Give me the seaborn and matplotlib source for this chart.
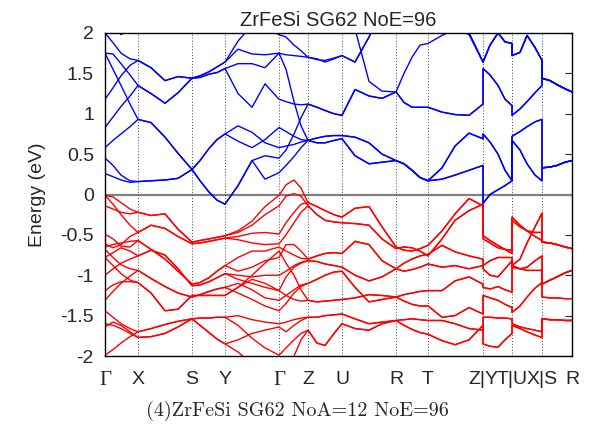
import pandas as pd
import matplotlib
matplotlib.use('Agg')
import matplotlib.pyplot as plt
import seaborn as sns

# path coordinate of every sample (duplicated x = discontinuity Z|Y, T|U, X|S)
k_path = [0, 8, 16, 25, 33, 46, 60, 73, 87, 95, 104, 112, 120, 133, 147, 160,
          174, 181, 189, 196, 203, 212, 220, 229, 237, 250, 264, 277, 291, 299,
          307, 315, 323, 337, 350, 364, 378,
          378, 385, 393, 400, 407,
          407, 415, 422, 430, 437,
          437, 445, 452, 460, 467]

sym_pos = [0, 33, 87, 120, 174, 203, 237, 291, 323, 378, 407, 437, 467]
sym_labels = ['Γ', 'X', 'S', 'Y', 'Γ', 'Z', 'U', 'R', 'T', 'Z|Y', 'T|U', 'X|S', 'R']

# conduction bands (eV)
c1 = [0.26, 0.22, 0.18, 0.15, 0.16, 0.17, 0.18, 0.20, 0.31, 0.42, 0.57, 0.68, 0.75,
      0.85, 0.77, 0.64, 0.58, 0.60, 0.62, 0.65, 0.67, 0.70, 0.72, 0.73, 0.73,
      0.71, 0.64, 0.50, 0.42, 0.38, 0.30, 0.21, 0.17, 0.33, 0.60, 0.76, 0.69,
      0.75, 0.65, 0.50, 0.30, 0.17, 0.72, 0.78, 0.84, 0.90, 0.93,
      0.33, 0.34, 0.36, 0.40, 0.42]
c2 = [0.45, 0.36, 0.24, 0.17, 0.16, 0.17, 0.18, 0.20, 0.31, 0.42, 0.57, 0.68, 0.75,
      0.66, 0.58, 0.68, 0.83, 0.78, 0.72, 0.68, 0.67, 0.64, 0.64, 0.67, 0.69,
      0.48, 0.38, 0.40, 0.42, 0.38, 0.30, 0.21, 0.17, 0.19, 0.24, 0.30, 0.36,
      -0.11, 0.00, 0.06, 0.11, 0.17, 0.67, 0.55, 0.38, 0.24, 0.17,
      0.33, 0.34, 0.36, 0.40, 0.42]
c3 = [0.58, 0.67, 0.75, 0.84, 0.93, 0.89, 0.71, 0.51, 0.31, 0.17, 0.03, -0.07, -0.12,
      0.11, 0.42, 0.19, 0.27, 0.36, 0.47, 0.58, 0.67, 0.70, 0.72, 0.73, 0.73,
      0.71, 0.64, 0.50, 0.42, 0.38, 0.30, 0.21, 0.17, 0.33, 0.60, 0.76, 0.69,
      0.75, 0.65, 0.50, 0.30, 0.17, 0.72, 0.78, 0.84, 0.90, 0.93,
      0.33, 0.34, 0.36, 0.40, 0.42]
c4 = [1.75, 1.55, 1.35, 1.12, 0.93, 0.89, 0.71, 0.51, 0.31, 0.17, 0.03, -0.07, -0.12,
      0.11, 0.42, 0.48, 0.45, 0.55, 0.75, 0.95, 1.12, 1.08, 1.04, 1.00, 0.98,
      1.30, 1.22, 1.19, 1.27, 1.14, 1.08, 1.08, 1.08, 1.02, 0.99, 0.98, 1.12,
      1.56, 1.48, 1.35, 1.18, 1.10, 0.98, 1.06, 1.15, 1.26, 1.35,
      1.44, 1.41, 1.36, 1.31, 1.27]
c5 = [0.83, 0.96, 1.09, 1.22, 1.35, 1.25, 1.13, 1.26, 1.44, 1.45, 1.49, 1.51, 1.56,
      1.25, 1.08, 1.37, 1.18, 1.15, 1.12, 1.11, 1.12, 1.08, 1.04, 1.00, 0.98,
      1.30, 1.22, 1.19, 1.27, 1.50, 1.70, 1.85, 1.87, 1.97, 2.05, 1.98, 1.64,
      1.64, 1.85, 2.00, 1.89, 1.87, 1.72, 1.76, 1.97, 1.82, 1.66,
      1.44, 1.41, 1.36, 1.31, 1.27]
c6 = [1.75, 1.74, 1.62, 1.48, 1.35, 1.25, 1.13, 1.26, 1.44, 1.47, 1.52, 1.58, 1.64,
      1.80, 1.74, 1.73, 1.75, 1.55, 1.15, 0.85, 0.67, 0.64, 0.64, 0.67, 0.69,
      0.48, 0.38, 0.40, 0.42, 0.38, 0.30, 0.21, 0.17, 0.19, 0.24, 0.30, 0.36,
      -0.11, 0.00, 0.06, 0.11, 0.17, 0.67, 0.55, 0.38, 0.24, 0.17,
      0.33, 0.34, 0.36, 0.40, 0.42]
c7 = [1.18, 1.32, 1.47, 1.60, 1.66, 1.57, 1.41, 1.46, 1.44, 1.45, 1.49, 1.51, 1.56,
      1.62, 1.62, 1.57, 1.75, 1.73, 1.72, 1.71, 1.70, 1.67, 1.66, 1.69, 1.72,
      1.64, 1.95, 2.30, 2.40, 2.40, 2.40, 2.40, 2.40, 2.30, 2.20, 2.00, 1.64,
      1.64, 1.85, 2.00, 1.89, 1.87, 1.72, 1.76, 1.97, 1.82, 1.66,
      1.44, 1.41, 1.36, 1.31, 1.27]
c8 = [2.00, 1.88, 1.75, 1.68, 1.66, 1.57, 1.41, 1.46, 1.44, 1.47, 1.52, 1.58, 1.64,
      1.90, 2.10, 2.05, 1.98, 1.95, 1.85, 1.78, 1.70, 1.68, 1.64, 1.68, 1.72,
      1.64, 1.95, 2.30, 2.40, 2.40, 2.40, 2.40, 2.40, 2.30, 2.20, 2.00, 1.64,
      1.64, 1.85, 2.00, 1.89, 1.87, 1.72, 1.76, 1.97, 1.82, 1.66,
      1.44, 1.41, 1.36, 1.31, 1.27]
c9 = [2.30, 2.10, 1.98, 2.05, 2.20, 2.30, 2.40, 2.40, 2.40, 2.35, 2.30, 2.25, 2.20,
      2.20, 2.15, 2.05, 2.05, 2.10, 2.20, 2.30, 2.30, 2.30, 2.30, 2.25, 2.20,
      2.05, 1.40, 1.28, 1.27, 1.14, 1.08, 1.08, 1.08, 1.02, 0.99, 0.98, 1.12,
      1.56, 1.48, 1.35, 1.18, 1.10, 0.98, 1.06, 1.15, 1.26, 1.35,
      1.44, 1.41, 1.36, 1.31, 1.27]

# valence bands (eV)
v1 = [-0.01, -0.03, -0.10, -0.18, -0.22, -0.26, -0.24, -0.43, -0.59, -0.57, -0.55, -0.53, -0.51,
      -0.45, -0.33, -0.15, -0.01, 0.12, 0.18, 0.08, -0.10, -0.15, -0.20, -0.25, -0.28,
      -0.17, -0.15, -0.40, -0.65, -0.69, -0.70, -0.67, -0.63, -0.45, -0.24, -0.05, -0.14,
      -0.51, -0.57, -0.63, -0.68, -0.73, -0.28, -0.38, -0.45, -0.52, -0.57,
      -0.59, -0.60, -0.62, -0.65, -0.67]
v2 = [-0.01, -0.12, -0.25, -0.38, -0.47, -0.38, -0.42, -0.52, -0.61, -0.60, -0.58, -0.56, -0.54,
      -0.52, -0.48, -0.47, -0.49, -0.35, -0.22, -0.12, -0.10, -0.15, -0.20, -0.25, -0.28,
      -0.17, -0.15, -0.40, -0.65, -0.69, -0.70, -0.67, -0.63, -0.45, -0.24, -0.05, -0.14,
      -0.51, -0.57, -0.63, -0.68, -0.73, -0.28, -0.38, -0.45, -0.52, -0.57,
      -0.59, -0.60, -0.62, -0.65, -0.67]
v3 = [-0.14, -0.18, -0.22, -0.24, -0.22, -0.26, -0.24, -0.43, -0.59, -0.57, -0.55, -0.53, -0.51,
      -0.47, -0.38, -0.25, -0.14, -0.02, 0.01, -0.02, -0.14, -0.25, -0.32, -0.34, -0.35,
      -0.36, -0.38, -0.55, -0.67, -0.65, -0.66, -0.70, -0.76, -0.55, -0.32, -0.20, -0.12,
      -0.55, -0.60, -0.66, -0.68, -0.69, -0.32, -0.40, -0.45, -0.47, -0.47,
      -0.59, -0.60, -0.62, -0.65, -0.67]
v4 = [-0.49, -0.55, -0.64, -0.65, -0.57, -0.68, -0.80, -0.95, -1.11, -1.09, -1.03, -0.95, -0.88,
      -0.78, -0.70, -0.70, -0.65, -0.70, -0.75, -0.79, -0.80, -0.76, -0.73, -0.72, -0.73,
      -0.58, -0.62, -0.82, -0.92, -0.85, -0.80, -0.76, -0.74, -0.63, -0.71, -0.76, -0.80,
      -0.88, -0.82, -0.78, -0.78, -0.78, -0.88, -0.80, -0.60, -0.40, -0.23,
      -0.59, -0.60, -0.62, -0.65, -0.67]
v5 = [-0.61, -0.66, -0.62, -0.52, -0.47, -0.38, -0.42, -0.52, -0.61, -0.60, -0.58, -0.56, -0.54,
      -0.56, -0.60, -0.62, -0.61, -0.50, -0.35, -0.22, -0.14, -0.25, -0.32, -0.34, -0.35,
      -0.36, -0.38, -0.55, -0.67, -0.65, -0.66, -0.70, -0.76, -0.55, -0.32, -0.20, -0.12,
      -0.55, -0.60, -0.66, -0.68, -0.69, -0.32, -0.40, -0.45, -0.47, -0.47,
      -0.59, -0.60, -0.62, -0.65, -0.67]
v6 = [-0.65, -0.62, -0.60, -0.58, -0.57, -0.68, -0.80, -0.95, -1.11, -1.09, -1.03, -0.95, -0.88,
      -0.95, -0.90, -0.82, -0.78, -0.62, -0.62, -0.70, -0.80, -0.76, -0.73, -0.72, -0.73,
      -0.58, -0.62, -0.82, -0.92, -0.85, -0.80, -0.76, -0.74, -0.63, -0.71, -0.76, -0.80,
      -0.88, -0.82, -0.78, -0.78, -0.78, -0.88, -0.80, -0.60, -0.40, -0.23,
      -0.59, -0.60, -0.62, -0.65, -0.67]
v7 = [-0.78, -0.72, -0.66, -0.70, -0.76, -0.69, -0.75, -0.92, -1.13, -1.12, -1.08, -1.03, -0.98,
      -1.00, -1.02, -1.00, -1.00, -0.95, -0.88, -0.84, -0.82, -0.83, -0.86, -0.88, -0.90,
      -1.00, -1.07, -1.02, -0.92, -0.95, -0.93, -0.90, -0.86, -0.90, -0.88, -0.92, -0.88,
      -0.92, -1.00, -1.02, -0.92, -0.82, -0.90, -0.92, -0.90, -0.82, -0.76,
      -1.11, -1.06, -1.02, -0.97, -0.94]
v8 = [-1.00, -0.92, -0.85, -0.80, -0.76, -0.69, -0.75, -0.92, -1.13, -1.12, -1.08, -1.03, -0.98,
      -1.05, -1.10, -1.15, -1.19, -1.02, -0.90, -0.85, -0.82, -0.83, -0.86, -0.88, -0.90,
      -1.00, -1.07, -1.02, -0.92, -0.95, -0.93, -0.90, -0.86, -0.90, -0.88, -0.92, -0.88,
      -0.92, -1.00, -1.02, -0.92, -0.82, -0.90, -0.92, -0.90, -0.82, -0.76,
      -1.11, -1.06, -1.02, -0.97, -0.94]
v9 = [-1.31, -1.20, -1.10, -1.01, -0.94, -1.04, -1.14, -1.22, -1.27, -1.24, -1.20, -1.17, -1.15,
      -1.10, -1.18, -1.28, -1.31, -1.25, -1.18, -1.12, -1.10, -1.05, -1.00, -0.96, -0.95,
      -1.15, -1.33, -1.30, -1.27, -1.24, -1.22, -1.20, -1.19, -1.19, -1.07, -1.02, -1.11,
      -1.15, -1.17, -1.14, -1.18, -1.21, -0.88, -0.92, -0.94, -0.94, -0.94,
      -1.11, -1.06, -1.02, -0.97, -0.94]
v10 = [-0.68, -0.78, -0.87, -0.92, -0.94, -1.04, -1.14, -1.22, -1.27, -1.24, -1.20, -1.17, -1.15,
       -1.22, -1.30, -1.38, -1.44, -1.35, -1.22, -1.14, -1.10, -1.05, -1.00, -0.96, -0.95,
       -1.15, -1.33, -1.30, -1.27, -1.24, -1.22, -1.20, -1.19, -1.19, -1.07, -1.02, -1.11,
       -1.15, -1.17, -1.14, -1.18, -1.21, -0.88, -0.92, -0.94, -0.94, -0.94,
       -1.11, -1.06, -1.02, -0.97, -0.94]
v11 = [-0.78, -0.88, -0.98, -1.06, -1.09, -1.22, -1.44, -1.42, -1.25, -1.25, -1.25, -1.25, -1.25,
       -1.15, -1.05, -1.10, -1.19, -1.25, -1.30, -1.32, -1.31, -1.33, -1.32, -1.31, -1.30,
       -1.28, -1.24, -1.25, -1.27, -1.32, -1.36, -1.38, -1.38, -1.52, -1.50, -1.40, -1.48,
       -1.25, -1.28, -1.31, -1.36, -1.40, -1.46, -1.38, -1.27, -1.16, -1.09,
       -1.27, -1.28, -1.28, -1.29, -1.29]
v12 = [-1.19, -1.12, -1.08, -1.08, -1.09, -1.22, -1.44, -1.42, -1.25, -1.25, -1.25, -1.25, -1.25,
       -1.15, -1.00, -0.85, -0.70, -0.85, -1.00, -1.18, -1.31, -1.33, -1.32, -1.31, -1.30,
       -1.28, -1.24, -1.25, -1.27, -1.32, -1.36, -1.38, -1.38, -1.52, -1.50, -1.40, -1.48,
       -1.25, -1.28, -1.31, -1.36, -1.40, -1.46, -1.38, -1.27, -1.16, -1.09,
       -1.27, -1.28, -1.28, -1.29, -1.29]
v13 = [-1.44, -1.52, -1.60, -1.66, -1.70, -1.66, -1.61, -1.57, -1.54, -1.53, -1.53, -1.52, -1.52,
       -1.50, -1.55, -1.58, -1.60, -1.58, -1.55, -1.53, -1.52, -1.52, -1.50, -1.49, -1.48,
       -1.54, -1.60, -1.58, -1.56, -1.55, -1.54, -1.55, -1.56, -1.56, -1.60, -1.66, -1.68,
       -1.52, -1.52, -1.53, -1.53, -1.54, -1.60, -1.64, -1.66, -1.68, -1.70,
       -1.54, -1.55, -1.55, -1.56, -1.56]
v14 = [-1.60, -1.62, -1.66, -1.72, -1.77, -1.76, -1.72, -1.64, -1.54, -1.62, -1.71, -1.79, -1.85,
       -1.80, -1.72, -1.68, -1.64, -1.70, -1.62, -1.56, -1.52, -1.52, -1.50, -1.49, -1.48,
       -1.54, -1.60, -1.58, -1.56, -1.55, -1.54, -1.55, -1.56, -1.56, -1.60, -1.66, -1.68,
       -1.52, -1.52, -1.53, -1.53, -1.54, -1.60, -1.64, -1.66, -1.68, -1.70,
       -1.54, -1.55, -1.55, -1.56, -1.56]
v15 = [-1.64, -1.58, -1.62, -1.70, -1.77, -1.76, -1.72, -1.64, -1.54, -1.62, -1.71, -1.79, -1.85,
       -1.95, -2.10, -2.20, -2.30, -2.20, -2.00, -1.80, -1.68, -1.84, -1.87, -1.72, -1.60,
       -1.66, -1.68, -1.60, -1.56, -1.62, -1.67, -1.71, -1.73, -1.81, -1.86, -1.80, -1.62,
       -1.85, -1.88, -1.89, -1.80, -1.72, -1.62, -1.66, -1.70, -1.74, -1.77,
       -1.54, -1.55, -1.55, -1.56, -1.56]
v16 = [-1.99, -1.92, -1.84, -1.76, -1.70, -1.66, -1.61, -1.57, -1.54, -1.53, -1.53, -1.52, -1.52,
       -1.62, -1.78, -1.90, -1.99, -1.90, -1.80, -1.72, -1.68, -1.84, -1.87, -1.72, -1.60,
       -1.66, -1.68, -1.60, -1.56, -1.62, -1.67, -1.71, -1.73, -1.81, -1.86, -1.80, -1.62,
       -1.85, -1.88, -1.89, -1.80, -1.72, -1.62, -1.66, -1.70, -1.74, -1.77,
       -1.54, -1.55, -1.55, -1.56, -1.56]

conduction = [c1, c2, c3, c4, c5, c6, c7, c8, c9]
valence = [v1, v2, v3, v4, v5, v6, v7, v8, v9, v10, v11, v12, v13, v14, v15, v16]

# long table for seaborn
rows = []
for i, band in enumerate(valence):
    for k, e in zip(k_path, band):
        rows.append({'k': k, 'E': e, 'band': 'v%d' % i, 'kind': 'valence'})
for i, band in enumerate(conduction):
    for k, e in zip(k_path, band):
        rows.append({'k': k, 'E': e, 'band': 'c%d' % i, 'kind': 'conduction'})
df = pd.DataFrame(rows)

sns.set_style('white')
plt.rcParams['font.family'] = ['Liberation Sans', 'DejaVu Sans']

fig = plt.figure(figsize=(5.91, 4.41), dpi=100)
ax = fig.add_axes([0.1777, 0.1927, 0.7902, 0.7325])

ax.axhline(0, color='#808080', lw=1.6, zorder=1)
for p in sym_pos[1:-1]:
    ax.axvline(p, color='#444444', lw=0.7, ls=(0, (1, 2)), zorder=1)

sns.lineplot(data=df, x='k', y='E', units='band', estimator=None, hue='kind',
             palette={'valence': '#ff0000', 'conduction': '#0000ff'},
             sort=False, linewidth=1.0, legend=False, ax=ax, zorder=2)

ax.set_xlim(0, 467)
ax.set_ylim(-2, 2)
yt = [-2, -1.5, -1, -0.5, 0, 0.5, 1, 1.5, 2]
ax.set_yticks(yt)
ax.set_yticklabels(['-2', '-1.5', '-1', '-0.5', '0', '0.5', '1', '1.5', '2'], fontsize=14)
ax.set_xticks(sym_pos)
ax.set_xticklabels(sym_labels, fontsize=14)
for lbl in ax.get_xticklabels():
    if lbl.get_text() == 'Γ':
        lbl.set_fontfamily('Liberation Serif')
        lbl.set_fontsize(15)
ax.tick_params(axis='y', direction='in', right=True, length=5, width=0.8, pad=8)
ax.tick_params(axis='x', direction='in', length=4, width=0.8, pad=11)
for s in ax.spines.values():
    s.set_linewidth(1.0)
    s.set_color('black')

ax.set_xlabel('')
ax.set_ylabel('Energy (eV)', fontsize=14, labelpad=10)
ax.set_title('ZrFeSi SG62 NoE=96', fontsize=14.5, pad=5)
fig.text(0.503, 0.068, '(4)ZrFeSi SG62 NoA=12 NoE=96', ha='center', va='center',
         fontsize=14.5, family='cmr10')

fig.savefig('out.png', dpi=100)
